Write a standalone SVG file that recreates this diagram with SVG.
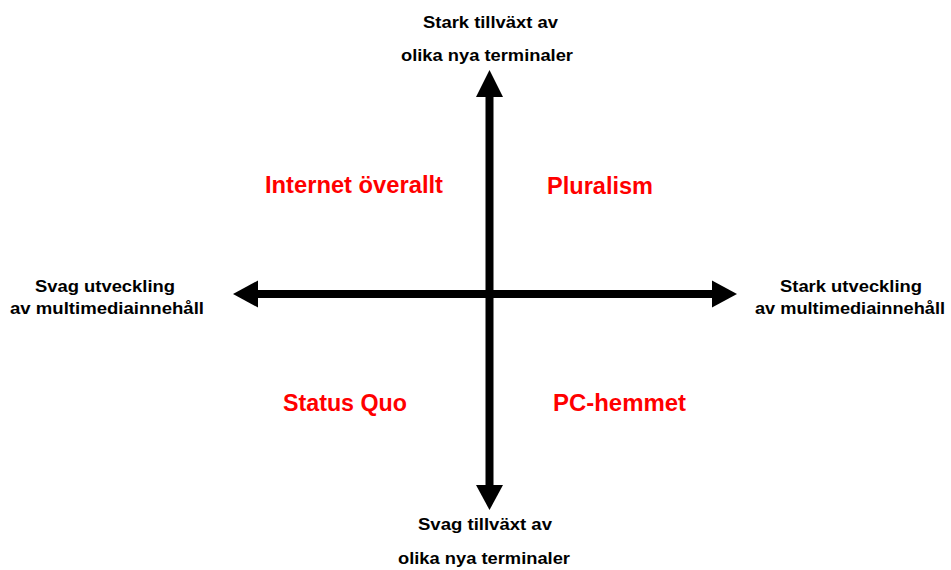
<svg xmlns="http://www.w3.org/2000/svg" width="951" height="570" viewBox="0 0 951 570">
<style>
.ax{font-family:"Liberation Sans",Arial,sans-serif;font-weight:bold;font-size:17px;fill:#000;text-anchor:start}
.q{font-family:"Liberation Sans",Arial,sans-serif;font-weight:bold;font-size:23px;fill:#ff0000;text-anchor:start}
.shaft{stroke:#000;stroke-width:8;fill:none}
.head{fill:#000}
</style>
<rect width="951" height="570" fill="#fff"/>
<g id="connectors">
<line class="shaft" x1="489.5" y1="95" x2="489.5" y2="487"/>
<polygon class="head" points="489.5,70 476,97 503,97"/>
<polygon class="head" points="489.5,510 476,485 503,485"/>
<line class="shaft" x1="256" y1="294" x2="714" y2="294"/>
<polygon class="head" points="233,294 258,280.5 258,307.5"/>
<polygon class="head" points="737,294 712,280.5 712,307.5"/>
</g>
<g id="top-label">
<text class="ax" x="423" y="28" textLength="135" lengthAdjust="spacingAndGlyphs">Stark tillväxt av</text>
<text class="ax" x="401" y="61" textLength="172" lengthAdjust="spacingAndGlyphs">olika nya terminaler</text>
</g>
<g id="bottom-label">
<text class="ax" x="418" y="530" textLength="134" lengthAdjust="spacingAndGlyphs">Svag tillväxt av</text>
<text class="ax" x="398" y="564" textLength="172" lengthAdjust="spacingAndGlyphs">olika nya terminaler</text>
</g>
<g id="left-label">
<text class="ax" x="35" y="292" textLength="140" lengthAdjust="spacingAndGlyphs">Svag utveckling</text>
<text class="ax" x="10" y="314" textLength="194" lengthAdjust="spacingAndGlyphs">av multimediainnehåll</text>
</g>
<g id="right-label">
<text class="ax" x="780" y="292" textLength="142" lengthAdjust="spacingAndGlyphs">Stark utveckling</text>
<text class="ax" x="755" y="314" textLength="190" lengthAdjust="spacingAndGlyphs">av multimediainnehåll</text>
</g>
<g id="internet-overallt">
<text class="q" x="265" y="193" textLength="178" lengthAdjust="spacingAndGlyphs">Internet överallt</text>
</g>
<g id="pluralism">
<text class="q" x="547" y="194" textLength="106" lengthAdjust="spacingAndGlyphs">Pluralism</text>
</g>
<g id="status-quo">
<text class="q" x="283" y="411" textLength="124" lengthAdjust="spacingAndGlyphs">Status Quo</text>
</g>
<g id="pc-hemmet">
<text class="q" x="553" y="411" textLength="133" lengthAdjust="spacingAndGlyphs">PC-hemmet</text>
</g>
</svg>
